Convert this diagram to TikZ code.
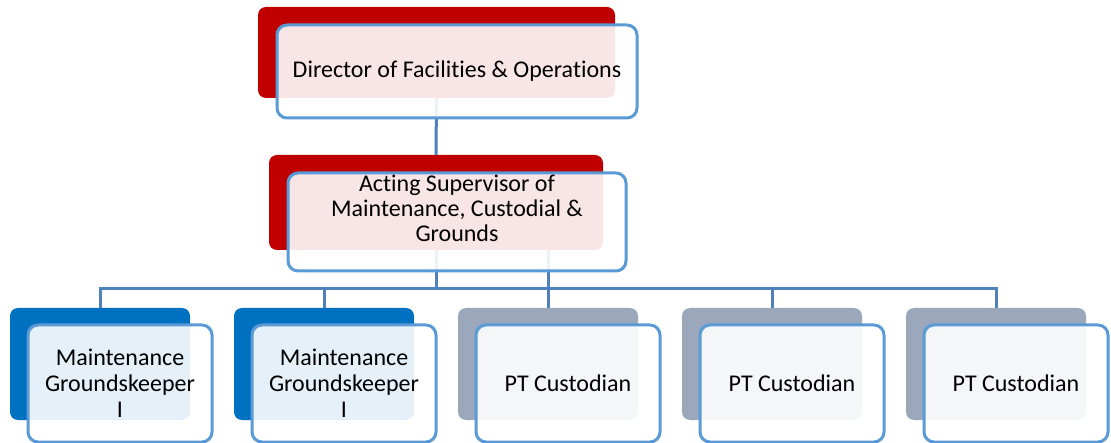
\documentclass[tikz,border=0pt]{standalone}
\usepackage{fontspec}
\setmainfont{Carlito}[RawFeature={-liga}]
\definecolor{redback}{HTML}{C00000}
\definecolor{blueback}{HTML}{0070C0}
\definecolor{grayback}{HTML}{9BA8BC}
\definecolor{frameblue}{HTML}{5B9BD5}
\definecolor{linkblue}{HTML}{4F81BD}
\begin{document}
\begin{tikzpicture}[x=1pt,y=-1pt,
  back/.style={rounded corners=8pt, inner sep=0pt, draw=none},
  front/.style={rounded corners=10pt, inner sep=0pt, draw=frameblue, line width=3pt,
     fill=white, fill opacity=0.9, text opacity=1, align=center,
     font=\fontsize{24}{26}\selectfont},
  link/.style={draw=linkblue, line width=3pt},
  lbl/.style={align=center, font=\fontsize{24}{25}\selectfont, inner sep=0pt}
]
\useasboundingbox (0,0) rectangle (1111,443);
% back boxes
\node[back, fill=redback, minimum width=357pt, minimum height=91pt] (dB) at (436.5,52.5) {};
\node[back, fill=redback, minimum width=334pt, minimum height=95pt] (sB) at (436,202.5) {};
\foreach \i/\L/\c in {1/10/blueback, 2/234/blueback, 3/458/grayback, 4/682/grayback, 5/906/grayback}{
  \node[back, fill=\c, minimum width=180pt, minimum height=112pt] (cB\i) at (\L+90,364) {};
}
% connectors
\draw[link] (dB.south) -- (sB.north);
\coordinate (bus) at (436,289);
\draw[link] (sB.south) -- (bus);
\foreach \i in {1,...,5}{
  \draw[link] (bus) -| (cB\i.north);
}
\draw[link] (cB3.north) -- (cB3.north |- sB.south);
% front boxes
\node[front, minimum width=360pt, minimum height=93pt] (dF) at (457,71.5) {Director of Facilities \& Operations};
\node[front, minimum width=338pt, minimum height=98pt] (sF) at (457,222) {};
\node[lbl] (sT) at (457,208) {Acting Supervisor of\\Maintenance, Custodial \&\\Grounds};
\node[front, minimum width=184pt, minimum height=117pt] (cF1) at (120,383.5) {Maintenance\\Groundskeeper\\I};
\node[front, minimum width=184pt, minimum height=117pt] (cF2) at (344,383.5) {Maintenance\\Groundskeeper\\I};
\node[front, minimum width=184pt, minimum height=117pt] (cF3) at (568,383.5) {PT Custodian};
\node[front, minimum width=184pt, minimum height=117pt] (cF4) at (792,383.5) {PT Custodian};
\node[front, minimum width=184pt, minimum height=117pt] (cF5) at (1016,383.5) {PT Custodian};
\end{tikzpicture}
\end{document}
